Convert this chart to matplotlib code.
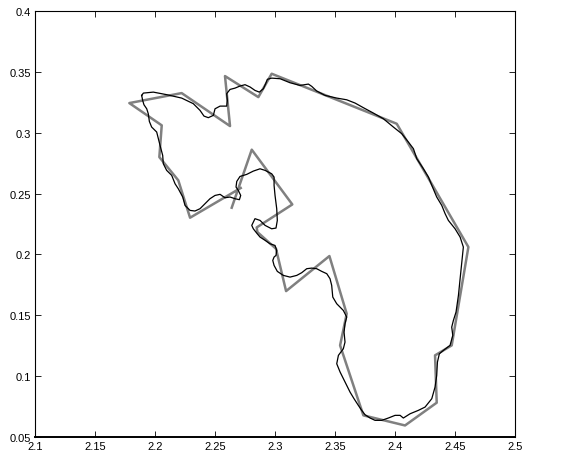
import matplotlib
matplotlib.use("Agg")
import matplotlib.pyplot as plt

# coarse polygon (gray)
poly_x = [2.2639, 2.2806, 2.3144, 2.2847, 2.2853, 2.3008, 2.3092, 2.3453,
          2.3597, 2.3542, 2.3736, 2.4083, 2.4347, 2.4333, 2.4472, 2.4611,
          2.4014, 2.2972, 2.2861, 2.2583, 2.2625, 2.2222, 2.1786, 2.2056,
          2.2036, 2.2194, 2.2292, 2.2714]
poly_y = [0.2384, 0.2861, 0.2411, 0.2222, 0.2184, 0.2047, 0.1699, 0.1987,
          0.1513, 0.1253, 0.0678, 0.0595, 0.0782, 0.1171, 0.1253, 0.2061,
          0.3074, 0.3485, 0.3293, 0.3466, 0.3055, 0.3326, 0.3244, 0.3061,
          0.2800, 0.2609, 0.2302, 0.2546]

# fine contour (black)
curve_x = [2.1889, 2.1903, 2.1986, 2.2097, 2.2222, 2.2319, 2.2375, 2.2408,
           2.2444, 2.2486, 2.2500, 2.2542, 2.2597, 2.2603, 2.2597, 2.2625,
           2.2667, 2.2708, 2.2750, 2.2792, 2.2833, 2.2869, 2.2903, 2.2922,
           2.2936, 2.2972, 2.3042, 2.3125, 2.3208, 2.3278, 2.3306, 2.3347,
           2.3417, 2.3514, 2.3597, 2.3667, 2.3736, 2.3819, 2.3903, 2.3986,
           2.4056, 2.4111, 2.4153, 2.4181, 2.4236, 2.4278, 2.4306, 2.4347,
           2.4389, 2.4417, 2.4444, 2.4500, 2.4542, 2.4569, 2.4556, 2.4542,
           2.4528, 2.4508, 2.4486, 2.4472, 2.4481, 2.4458, 2.4403, 2.4369,
           2.4353, 2.4347, 2.4333, 2.4306, 2.4250, 2.4194, 2.4125, 2.4069,
           2.4042, 2.4000, 2.3944, 2.3889, 2.3833, 2.3792, 2.3750, 2.3722,
           2.3694, 2.3658, 2.3625, 2.3583, 2.3542, 2.3514, 2.3528, 2.3569,
           2.3583, 2.3575, 2.3583, 2.3597, 2.3569, 2.3514, 2.3481, 2.3472,
           2.3458, 2.3431, 2.3389, 2.3347, 2.3306, 2.3264, 2.3222, 2.3181,
           2.3125, 2.3069, 2.3019, 2.2992, 2.2981, 2.2992, 2.3008, 2.3014,
           2.3000, 2.2958, 2.2917, 2.2875, 2.2847, 2.2819, 2.2806, 2.2833,
           2.2875, 2.2917, 2.2972, 2.3008, 2.3019, 2.3014, 2.3000, 2.2992,
           2.2992, 2.2972, 2.2917, 2.2875, 2.2819, 2.2764, 2.2708, 2.2681,
           2.2675, 2.2694, 2.2714, 2.2703, 2.2667, 2.2625, 2.2583, 2.2542,
           2.2500, 2.2458, 2.2417, 2.2375, 2.2333, 2.2292, 2.2250, 2.2231,
           2.2194, 2.2167, 2.2139, 2.2097, 2.2069, 2.2064, 2.2042, 2.2014,
           2.1972, 2.1953, 2.1944, 2.1931, 2.1908, 2.1897, 2.1889]
curve_y = [0.3307, 0.3326, 0.3334, 0.3313, 0.3285, 0.3239, 0.3184, 0.3137,
           0.3124, 0.3143, 0.3197, 0.3219, 0.3219, 0.3266, 0.3321, 0.3356,
           0.3367, 0.3384, 0.3395, 0.3376, 0.3348, 0.3334, 0.3362, 0.3403,
           0.3439, 0.3449, 0.3444, 0.3411, 0.3389, 0.3400, 0.3381, 0.3343,
           0.3307, 0.3285, 0.3271, 0.3244, 0.3206, 0.3162, 0.3115, 0.3047,
           0.2992, 0.2924, 0.2869, 0.2787, 0.2704, 0.2636, 0.2568, 0.2472,
           0.2403, 0.2335, 0.2280, 0.2211, 0.2143, 0.2061, 0.1938, 0.1801,
           0.1664, 0.1527, 0.1458, 0.1403, 0.1335, 0.1253, 0.1212, 0.1184,
           0.1116, 0.1006, 0.0910, 0.0815, 0.0746, 0.0719, 0.0691, 0.0656,
           0.0678, 0.0678, 0.0656, 0.0637, 0.0637, 0.0656, 0.0683, 0.0719,
           0.0760, 0.0815, 0.0869, 0.0952, 0.1034, 0.1102, 0.1171, 0.1225,
           0.1280, 0.1362, 0.1431, 0.1486, 0.1540, 0.1595, 0.1650, 0.1746,
           0.1801, 0.1842, 0.1861, 0.1883, 0.1888, 0.1883, 0.1850, 0.1828,
           0.1814, 0.1828, 0.1861, 0.1910, 0.1951, 0.1979, 0.1992, 0.2033,
           0.2074, 0.2088, 0.2116, 0.2143, 0.2176, 0.2211, 0.2239, 0.2294,
           0.2280, 0.2239, 0.2211, 0.2217, 0.2280, 0.2376, 0.2485, 0.2568,
           0.2636, 0.2663, 0.2691, 0.2704, 0.2685, 0.2658, 0.2641, 0.2600,
           0.2554, 0.2526, 0.2485, 0.2450, 0.2458, 0.2472, 0.2466, 0.2494,
           0.2485, 0.2458, 0.2417, 0.2376, 0.2357, 0.2362, 0.2403, 0.2472,
           0.2540, 0.2581, 0.2650, 0.2691, 0.2746, 0.2814, 0.2896, 0.3006,
           0.3047, 0.3093, 0.3156, 0.3197, 0.3230, 0.3266, 0.3307]

x_ticks = [2.1, 2.15, 2.2, 2.25, 2.3, 2.35, 2.4, 2.45, 2.5]
y_ticks = [0.05, 0.1, 0.15, 0.2, 0.25, 0.3, 0.35, 0.4]

plt.rcParams["font.family"] = ["Liberation Sans", "DejaVu Sans"]

fig = plt.figure(figsize=(5.88, 4.64), dpi=100)
ax = fig.add_axes([0.0595, 0.056, 0.8165, 0.918])

ax.plot(poly_x, poly_y, color="#808080", linewidth=1.8)
ax.plot(curve_x, curve_y, color="black", linewidth=0.9)

ax.set_xlim(2.1, 2.5)
ax.set_ylim(0.05, 0.4)
ax.set_xticks(x_ticks)
ax.set_yticks(y_ticks)
ax.set_xticklabels([f"{v:g}" for v in x_ticks])
ax.set_yticklabels([f"{v:g}" for v in y_ticks])
ax.tick_params(direction="in", top=True, right=True, length=4, width=0.6,
               labelsize=8, pad=3)
for s in ax.spines.values():
    s.set_linewidth(0.8)
ax.spines["bottom"].set_linewidth(1.4)

fig.savefig("out.png", dpi=100)
